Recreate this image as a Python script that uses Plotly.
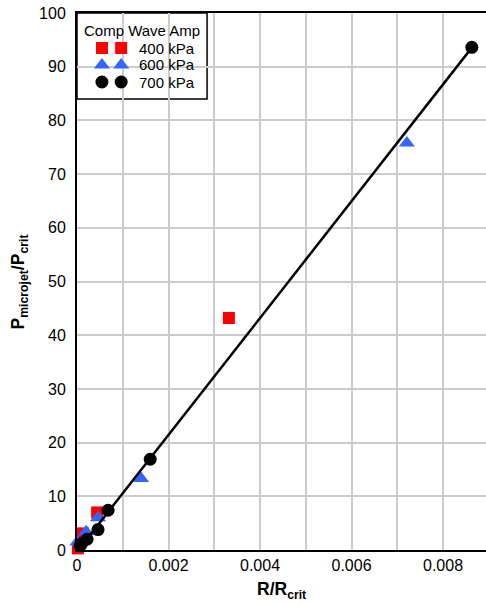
import numpy as np
import plotly.graph_objects as go

# ---- data ----
x400 = [0.00002, 0.00013, 0.00044, 0.00332]
y400 = [0.3, 3.1, 7.0, 43.2]

x600 = [0.00001, 0.00020, 0.00046, 0.00140, 0.00721]
y600 = [1.5, 3.4, 6.0, 13.3, 75.8]

x700 = [0.00007, 0.00010, 0.00022, 0.00046, 0.00068, 0.00160, 0.00863]
y700 = [0.8, 1.2, 2.0, 3.8, 7.4, 16.9, 93.6]

series_names = ["400 kPa", "600 kPa", "700 kPa"]
legend_title = "Comp Wave Amp"

xtick_vals = [0, 0.002, 0.004, 0.006, 0.008]
xtick_text = ["0", "0.002", "0.004", "0.006", "0.008"]

RED = "#ff0000"
BLUE = "#3366ff"
BLACK = "#000000"
FONT = "Liberation Sans, Arial, sans-serif"

# linear fit of the 700 kPa series
slope, intercept = np.polyfit(x700, y700, 1)
xfit = np.array([min(x700), max(x700)])
yfit = slope * xfit + intercept

fig = go.Figure()
fig.add_trace(go.Scatter(x=x400, y=y400, mode="markers", name=series_names[0],
                         marker=dict(symbol="square", size=12, color=RED),
                         cliponaxis=False, showlegend=False))
fig.add_trace(go.Scatter(x=x600, y=y600, mode="markers", name=series_names[1],
                         marker=dict(symbol="triangle-up", size=14, color=BLUE),
                         cliponaxis=False, showlegend=False))
fig.add_trace(go.Scatter(x=xfit, y=yfit, mode="lines", name="fit",
                         line=dict(color=BLACK, width=2.5), showlegend=False))
fig.add_trace(go.Scatter(x=x700, y=y700, mode="markers", name=series_names[2],
                         marker=dict(symbol="circle", size=13, color=BLACK),
                         cliponaxis=False, showlegend=False))

# ---- manual legend (two symbols per entry, like the reference) ----
leg_sym_x = [0.061, 0.108]
leg_rows_y = [0.9348, 0.9032, 0.8715]
leg_symbols = [("square", 12, RED), ("triangle-up", 14, BLUE), ("circle", 13, BLACK)]
for (sym, sz, col), ry in zip(leg_symbols, leg_rows_y):
    fig.add_trace(go.Scatter(x=leg_sym_x, y=[ry, ry], mode="markers",
                             marker=dict(symbol=sym, size=sz, color=col),
                             xaxis="x2", yaxis="y2", showlegend=False,
                             hoverinfo="skip", cliponaxis=False))

fig.add_shape(type="rect", xref="paper", yref="paper", x0=0, x1=0.318,
              y0=0.8399, y1=1.0, fillcolor="white",
              line=dict(color=BLACK, width=1.5), layer="between")

annotations = [
    dict(text=legend_title, x=0.159, y=0.9665, xref="paper", yref="paper",
         showarrow=False, xanchor="center", yanchor="middle",
         font=dict(family=FONT, size=15, color=BLACK)),
]
for name, ry in zip(series_names, leg_rows_y):
    annotations.append(dict(text=name, x=0.1467, y=ry, xref="paper", yref="paper",
                            showarrow=False, xanchor="left", yanchor="middle",
                            font=dict(family=FONT, size=15, color=BLACK)))
annotations.append(dict(text="<b>R/R<sub>crit</sub></b>", x=0.5, y=-0.0745,
                        xref="paper", yref="paper", showarrow=False,
                        xanchor="center", yanchor="middle",
                        font=dict(family=FONT, size=17.5, color=BLACK)))
annotations.append(dict(text="<b>P<sub>microjet</sub>/P<sub>crit</sub></b>",
                        x=-0.1394, y=0.5, xref="paper", yref="paper",
                        showarrow=False, textangle=-90,
                        xanchor="center", yanchor="middle",
                        font=dict(family=FONT, size=17.5, color=BLACK)))

fig.update_layout(
    width=486, height=603,
    margin=dict(l=77, r=0, t=13, b=53),
    paper_bgcolor="white", plot_bgcolor="white",
    font=dict(family=FONT, size=16, color=BLACK),
    annotations=annotations,
    xaxis=dict(range=[0, 0.00894], tickvals=xtick_vals, ticktext=xtick_text,
               showgrid=True, gridcolor="#cccccc", gridwidth=1.5,
               minor=dict(dtick=0.001, tick0=0, showgrid=True,
                          gridcolor="#cccccc", gridwidth=1.5),
               showline=True, linecolor=BLACK, linewidth=2, mirror=True,
               ticks="", zeroline=False,
               tickfont=dict(family=FONT, size=16, color=BLACK)),
    yaxis=dict(range=[0, 100], dtick=10, tick0=0,
               showgrid=True, gridcolor="#cccccc", gridwidth=1.5,
               showline=True, linecolor=BLACK, linewidth=2, mirror=False,
               ticks="", zeroline=False, ticklabelstandoff=6,
               tickfont=dict(family=FONT, size=16, color=BLACK)),
    xaxis2=dict(range=[0, 1], overlaying="x", visible=False, fixedrange=True),
    yaxis2=dict(range=[0, 1], overlaying="y", visible=False, fixedrange=True),
)

fig.write_html("out.html")
